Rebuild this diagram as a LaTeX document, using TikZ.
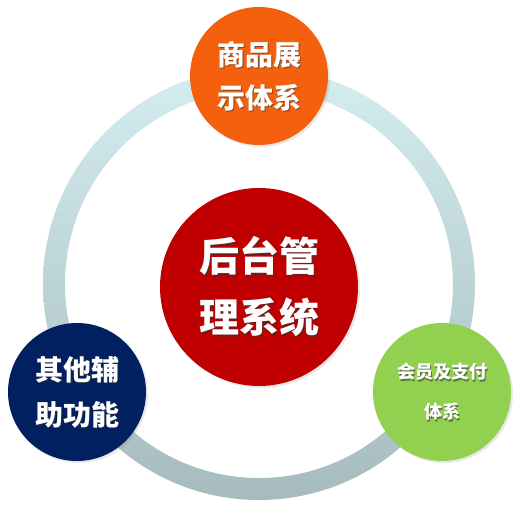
\documentclass[tikz,border=0pt]{standalone}
\usepackage{fontspec}
\newfontfamily\cjk{Noto Sans CJK SC}
\usetikzlibrary{shadows}
\definecolor{ringtop}{HTML}{D4EDF0}
\definecolor{ringbot}{HTML}{A6BBBE}
\definecolor{corange}{HTML}{F4600E}
\definecolor{cred}{HTML}{C00000}
\definecolor{cnavy}{HTML}{002060}
\definecolor{cgreen}{HTML}{92D050}
\definecolor{tshadow}{HTML}{303030}
\tikzset{
  x=1pt,y=1pt,
  bubble/.style={circle,inner sep=0pt,draw=none,
    drop shadow={opacity=0.18,shadow xshift=2pt,shadow yshift=-2pt}},
  small/.style={bubble,minimum size=138pt},
  big/.style={bubble,minimum size=198pt},
  label/.style={text=white,align=center,inner sep=0pt},
  lshadow/.style={text=tshadow,opacity=0.55,align=center,inner sep=0pt},
  fA/.style={font=\cjk\bfseries\fontsize{28}{43}\selectfont},
  fB/.style={font=\cjk\bfseries\fontsize{40}{61}\selectfont},
  fC/.style={font=\cjk\bfseries\fontsize{28}{45}\selectfont},
  fD/.style={font=\cjk\bfseries\fontsize{18}{40}\selectfont},
}
\newcommand{\shtext}[3]{%
  \node[lshadow,#2] (#1s) at ([shift={(1.6,-1.6)}]#1.center) {#3};
  \node[label,#2] (#1t) at (#1.center) {#3};}
\begin{document}
\begin{tikzpicture}
\useasboundingbox (0,0) rectangle (517,511);
\coordinate (rc) at (259,227);
\shade[top color=ringtop,bottom color=ringbot,even odd rule]
  (rc) circle (216) (rc) circle (194);
\node[small,fill=corange] (top) at (259,435) {};
\node[big,fill=cred] (mid) at (259,224) {};
\node[small,fill=cnavy] (left) at (77,119) {};
\node[small,fill=cgreen] (right) at (442,119) {};
\shtext{top}{fA}{商品展\\示体系}
\shtext{mid}{fB}{后台管\\理系统}
\shtext{left}{fC}{其他辅\\助功能}
\shtext{right}{fD}{会员及支付\\体系}
\end{tikzpicture}
\end{document}
